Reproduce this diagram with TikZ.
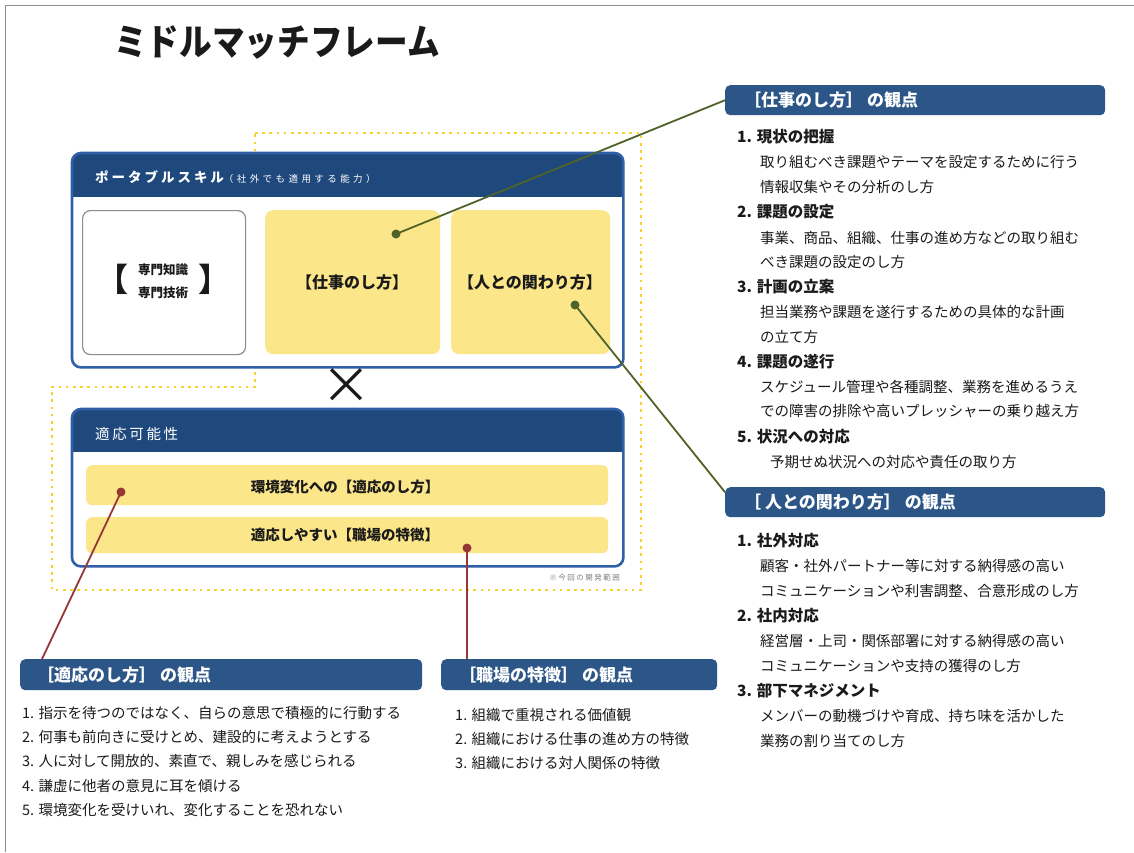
\documentclass[tikz,border=0pt]{standalone}
\usepackage{fontspec}
\usepackage{graphicx}
\setmainfont{Noto Sans CJK JP}
\usetikzlibrary{calc}
\definecolor{navy}{HTML}{1F497D}
\definecolor{hdr}{HTML}{2B5687}
\definecolor{bordblue}{HTML}{2E5FA8}
\definecolor{ylw}{HTML}{FCE68A}
\definecolor{dotylw}{HTML}{F6D22A}
\definecolor{olive}{HTML}{4F6228}
\definecolor{dred}{HTML}{953735}
\definecolor{txt}{HTML}{1A1A1A}
\definecolor{framegray}{HTML}{8C8C8C}
\tikzset{
  hbox/.style={fill=hdr, rounded corners=5pt, anchor=north west, inner sep=0pt, draw=none},
  htext/.style={anchor=west, text=white, inner sep=0pt, font=\bfseries\fontsize{17}{20}\selectfont},
  itemt/.style={anchor=west, inner sep=0pt, text=txt, font=\bfseries\fontsize{15.5}{18}\selectfont},
  subt/.style={anchor=west, inner sep=0pt, text=txt, font=\fontsize{14.5}{17}\selectfont},
  ybox/.style={fill=ylw, rounded corners=8pt, draw=none, anchor=north west, inner sep=0pt},
  bigbox/.style={fill=white, anchor=north west, inner sep=0pt, draw=none},
  gdot/.style={circle, fill=olive, inner sep=0pt, minimum size=9pt},
  rdot/.style={circle, fill=dred, inner sep=0pt, minimum size=9pt},
  gline/.style={draw=olive, line width=1.8pt},
  rline/.style={draw=dred, line width=1.8pt},
  ylwtext/.style={text=txt, inner sep=0pt, font=\bfseries\fontsize{16}{18}\selectfont},
  ktxt/.style={text=txt, inner sep=0pt, text height=9.5pt, text depth=1.5pt, font=\bfseries\fontsize{12.5}{14}\selectfont},
  kbr/.style={text=txt, inner sep=0pt, text height=24pt, text depth=4pt, font=\bfseries\fontsize{32}{34}\selectfont},
}
\begin{document}
\begin{tikzpicture}[x=1pt,y=-1pt]
\useasboundingbox (0,0) rectangle (1134,852);
\fill[white] (0,0) rectangle (1134,852);
% frame
\draw[framegray, line width=1.5pt] (5.5,852) -- (5.5,5.5) -- (1134,5.5);

% title
\node[anchor=west, inner sep=0pt, text=txt] (title) at (114,42)
  {\scalebox{0.96}[1.08]{\bfseries\fontsize{34}{36}\selectfont ミドルマッチフレーム}};

% dotted development range
\draw[dotylw, line width=2.6pt, dash pattern=on 2.6pt off 4.6pt]
  (255,133) -- (641,133) -- (641,590) -- (52,590) -- (52,387) -- (255,387) -- cycle;

% portable skill box
\node[bigbox, minimum width=551pt, minimum height=214pt] (pbox) at (72,153) {};
\begin{scope}
  \clip[rounded corners=9pt] (pbox.north west) rectangle (pbox.south east);
  \fill[navy] (72,153) rectangle (623,197);
\end{scope}
\draw[bordblue, line width=2.6pt, rounded corners=9pt] (pbox.north west) rectangle (pbox.south east);
\node[anchor=west, inner sep=0pt, text=white] (ptitle) at (95,177)
  {\bfseries\fontsize{13.5}{15}\selectfont\addfontfeature{LetterSpace=22}ポータブルスキル\mdseries\fontsize{9.5}{10}\selectfont\addfontfeature{LetterSpace=36}（社外でも適用する能力）};

\node[draw=framegray, line width=1.2pt, fill=white, rounded corners=8pt, anchor=north west,
  minimum width=163pt, minimum height=144pt, inner sep=0pt] (kbox) at (82,210) {};
\node[kbr] (kl) at (112,281) {【};
\node[ktxt] (kt1) at (163,270) {専門知識};
\node[ktxt] (kt2) at (163,293) {専門技術};
\node[kbr] (kr) at (214,281) {】};

\node[ybox, minimum width=175pt, minimum height=144pt] (y1) at (265,210) {};
\node[ylwtext] (y1t) at (352,282) {【仕事のし方】};
\node[ybox, minimum width=159pt, minimum height=144pt] (y2) at (451,210) {};
\node[ylwtext] (y2t) at (530,282) {【人との関わり方】};

% cross
\node[inner sep=0pt, text=txt] (cross) at (346,386) {\fontsize{50}{50}\selectfont ×};

% adaptability box
\node[bigbox, minimum width=551pt, minimum height=157pt] (abox) at (72,409) {};
\begin{scope}
  \clip[rounded corners=9pt] (abox.north west) rectangle (abox.south east);
  \fill[navy] (72,409) rectangle (623,452);
\end{scope}
\draw[bordblue, line width=2.6pt, rounded corners=9pt] (abox.north west) rectangle (abox.south east);
\node[anchor=west, inner sep=0pt, text=white] (atitle) at (95,434)
  {\fontsize{14.5}{15}\selectfont\addfontfeature{LetterSpace=18}適応可能性};
\node[ybox, rounded corners=6pt, minimum width=522pt, minimum height=40pt] (b1) at (86,465) {};
\node[ylwtext, font=\bfseries\fontsize{14.5}{16}\selectfont] (b1t) at (345,487) {環境変化への【適応のし方】};
\node[ybox, rounded corners=6pt, minimum width=522pt, minimum height=36pt] (b2) at (86,517) {};
\node[ylwtext, font=\bfseries\fontsize{14.5}{16}\selectfont] (b2t) at (345,535) {適応しやすい【職場の特徴】};
\node[anchor=east, inner sep=0pt, text=gray] (note) at (620,578)
  {\fontsize{7.5}{8}\selectfont\addfontfeature{LetterSpace=20}※今回の開発範囲};

% right header A
\node[hbox, minimum width=380pt, minimum height=30pt] (hA) at (725,85) {};
\node[htext] (hAt) at (744,100) {［仕事のし方］ の観点};
\node[itemt] (a1) at (737,137) {1. 現状の把握};
\node[subt] (a1a) at (760,162) {取り組むべき課題やテーマを設定するために行う};
\node[subt] (a1b) at (760,187) {情報収集やその分析のし方};
\node[itemt] (a2) at (737,212) {2. 課題の設定};
\node[subt] (a2a) at (760,238) {事業、商品、組織、仕事の進め方などの取り組む};
\node[subt] (a2b) at (760,262) {べき課題の設定のし方};
\node[itemt] (a3) at (737,287) {3. 計画の立案};
\node[subt] (a3a) at (760,312) {担当業務や課題を遂行するための具体的な計画};
\node[subt] (a3b) at (760,337) {の立て方};
\node[itemt] (a4) at (737,362) {4. 課題の遂行};
\node[subt] (a4a) at (760,387) {スケジュール管理や各種調整、業務を進めるうえ};
\node[subt] (a4b) at (760,411) {での障害の排除や高いプレッシャーの乗り越え方};
\node[itemt] (a5) at (737,437) {5. 状況への対応};
\node[subt] (a5a) at (770,462) {予期せぬ状況への対応や責任の取り方};

% right header B
\node[hbox, minimum width=380pt, minimum height=30pt] (hB) at (725,487) {};
\node[htext] (hBt) at (744,502) {［ 人との関わり方］ の観点};
\node[itemt] (b1i) at (737,541) {1. 社外対応};
\node[subt] (b1a) at (760,566) {顧客・社外パートナー等に対する納得感の高い};
\node[subt] (b1b) at (760,591) {コミュニケーションや利害調整、合意形成のし方};
\node[itemt] (b2i) at (737,616) {2. 社内対応};
\node[subt] (b2a) at (760,641) {経営層・上司・関係部署に対する納得感の高い};
\node[subt] (b2b) at (760,666) {コミュニケーションや支持の獲得のし方};
\node[itemt] (b3i) at (737,691) {3. 部下マネジメント};
\node[subt] (b3a) at (760,716) {メンバーの動機づけや育成、持ち味を活かした};
\node[subt] (b3b) at (760,741) {業務の割り当てのし方};

% bottom header C
\node[hbox, minimum width=402pt, minimum height=31pt] (hC) at (20,659) {};
\node[htext] (hCt) at (37,675) {［適応のし方］ の観点};
\node[subt] (c1) at (22,713) {1. 指示を待つのではなく、自らの意思で積極的に行動する};
\node[subt] (c2) at (22,737) {2. 何事も前向きに受けとめ、建設的に考えようとする};
\node[subt] (c3) at (22,761) {3. 人に対して開放的、素直で、親しみを感じられる};
\node[subt] (c4) at (22,786) {4. 謙虚に他者の意見に耳を傾ける};
\node[subt] (c5) at (22,810) {5. 環境変化を受けいれ、変化することを恐れない};

% bottom header D
\node[hbox, minimum width=276pt, minimum height=31pt] (hD) at (441,659) {};
\node[htext] (hDt) at (459,675) {［職場の特徴］ の観点};
\node[subt] (e1) at (455,715) {1. 組織で重視される価値観};
\node[subt] (e2) at (455,739) {2. 組織における仕事の進め方の特徴};
\node[subt] (e3) at (455,763) {3. 組織における対人関係の特徴};

% dots and connectors
\node[gdot] (d1) at (396,234) {};
\node[gdot] (d2) at (575,305) {};
\node[rdot] (d3) at (121,492) {};
\node[rdot] (d4) at (467,548) {};
\coordinate (hBin) at ([yshift=10pt]hB.west);
\coordinate (hCin) at ([xshift=22pt]hC.north west);
\draw[gline] (d1.center) -- (hA.west);
\draw[gline] (d2.center) -- (hBin);
\draw[rline] (d3.center) -- (hCin);
\draw[rline] (d4.center) -- (d4 |- hD.north);
\end{tikzpicture}
\end{document}
